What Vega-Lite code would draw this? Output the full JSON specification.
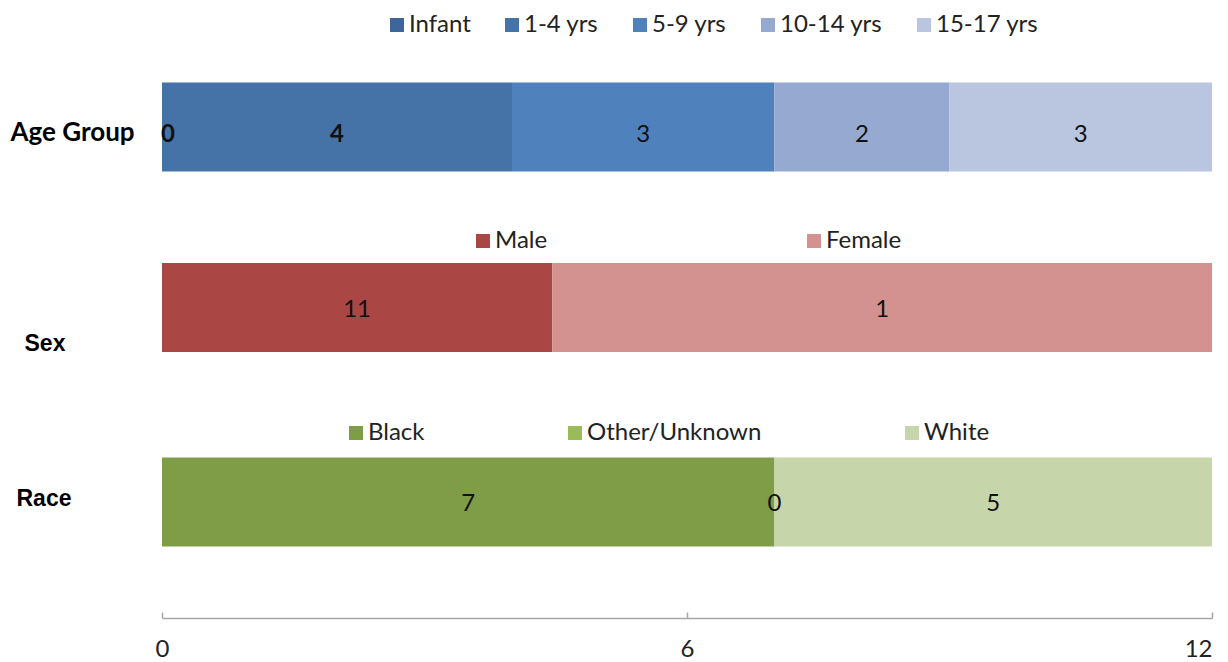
{
  "$schema": "https://vega.github.io/schema/vega-lite/v6.json",
  "autosize": "none",
  "width": 1050,
  "height": 607,
  "padding": {"left": 162, "top": 11, "right": 16, "bottom": 44},
  "background": "white",
  "config": {"view": {"stroke": null}, "font": "Lato"},
  "data": {
    "values": [
      {"group": "Age Group", "category": "Infant", "idx": 0, "value": 0, "label": "0"},
      {"group": "Age Group", "category": "1-4 yrs", "idx": 1, "value": 4, "label": "4"},
      {"group": "Age Group", "category": "5-9 yrs", "idx": 2, "value": 3, "label": "3"},
      {"group": "Age Group", "category": "10-14 yrs", "idx": 3, "value": 2, "label": "2"},
      {"group": "Age Group", "category": "15-17 yrs", "idx": 4, "value": 3, "label": "3"},
      {"group": "Sex", "category": "Male", "idx": 0, "value": 4.46, "label": "11"},
      {"group": "Sex", "category": "Female", "idx": 1, "value": 7.54, "label": "1"},
      {"group": "Race", "category": "Black", "idx": 0, "value": 7, "label": "7"},
      {"group": "Race", "category": "Other/Unknown", "idx": 1, "value": 0, "label": "0"},
      {"group": "Race", "category": "White", "idx": 2, "value": 5, "label": "5"}
    ]
  },
  "encoding": {
    "y": {
      "field": "group",
      "type": "nominal",
      "sort": ["Age Group", "Sex", "Race"],
      "scale": {"domain": ["Age Group", "Sex", "Race"], "paddingInner": 0.525, "paddingOuter": 0.381},
      "axis": {
        "title": null,
        "domain": false,
        "ticks": false,
        "labelColor": "#000000",
        "labelFontWeight": "bold",
        "labelAlign": "left",
        "labelBaseline": "middle",
        "labelLimit": 300,
        "labelFont": {"condition": {"test": "datum.value === 'Age Group'", "value": "Lato"}, "value": "Liberation Sans"},
        "labelFontSize": {"condition": {"test": "datum.value === 'Age Group'", "value": 26}, "value": 23},
        "labelPadding": {"condition": [{"test": "datum.value === 'Age Group'", "value": 152}, {"test": "datum.value === 'Sex'", "value": 138}], "value": 146},
        "labelOffset": {"condition": [{"test": "datum.value === 'Age Group'", "value": 6}, {"test": "datum.value === 'Sex'", "value": 29}], "value": -3}
      }
    }
  },
  "layer": [
    {
      "transform": [{"filter": "datum.group === 'Age Group'"}],
      "mark": {"type": "bar"},
      "encoding": {
        "x": {
          "field": "value", "type": "quantitative", "stack": "zero",
          "scale": {"domain": [0, 12], "nice": false},
          "axis": {
            "title": null, "values": [0, 6, 12], "format": "d", "grid": false,
            "domainColor": "#A6A6A6", "domainWidth": 1.5,
            "tickColor": "#A6A6A6", "tickWidth": 1.5, "tickSize": -6,
            "labelPadding": 25, "labelFont": "Lato", "labelFontSize": 24,
            "labelColor": "#222222", "labelFlush": false,
            "labelAlign": {"condition": {"test": "datum.value === 12", "value": "right"}, "value": "center"}
          }
        },
        "order": {"field": "idx", "type": "quantitative"},
        "color": {
          "field": "category", "type": "nominal",
          "scale": {"domain": ["Infant", "1-4 yrs", "5-9 yrs", "10-14 yrs", "15-17 yrs"], "range": ["#3D669A", "#4573A8", "#4F81BD", "#95A9D1", "#BAC6E0"]},
          "legend": {
            "orient": "none", "legendX": 223, "legendY": 2, "direction": "horizontal",
            "title": null, "padding": 0, "symbolType": "square", "symbolSize": 196,
            "symbolStrokeWidth": 0, "labelFont": "Lato", "labelFontSize": 24, "labelLimit": 400,
            "labelColor": "#222222", "labelOffset": 0, "columnPadding": 29, "gridAlign": "none"
          }
        }
      }
    },
    {
      "transform": [{"filter": "datum.group === 'Sex'"}],
      "mark": {"type": "bar", "yOffset": -7},
      "encoding": {
        "x": {"field": "value", "type": "quantitative", "stack": "zero"},
        "order": {"field": "idx", "type": "quantitative"},
        "color": {
          "field": "category", "type": "nominal",
          "scale": {"domain": ["Male", "Female"], "range": ["#AA4643", "#D3918F"]},
          "legend": {
            "orient": "none", "legendX": 309, "legendY": 218, "direction": "horizontal",
            "title": null, "padding": 0, "symbolType": "square", "symbolSize": 196,
            "symbolStrokeWidth": 0, "labelFont": "Lato", "labelFontSize": 24, "labelLimit": 400,
            "labelColor": "#222222", "labelOffset": 0, "columnPadding": 254, "gridAlign": "none"
          }
        }
      }
    },
    {
      "transform": [{"filter": "datum.group === 'Race'"}],
      "mark": {"type": "bar"},
      "encoding": {
        "x": {"field": "value", "type": "quantitative", "stack": "zero"},
        "order": {"field": "idx", "type": "quantitative"},
        "color": {
          "field": "category", "type": "nominal",
          "scale": {"domain": ["Black", "Other/Unknown", "White"], "range": ["#7F9C47", "#9BBB59", "#C6D6AA"]},
          "legend": {
            "orient": "none", "legendX": 182, "legendY": 410, "direction": "horizontal",
            "title": null, "padding": 0, "symbolType": "square", "symbolSize": 196,
            "symbolStrokeWidth": 0, "labelFont": "Lato", "labelFontSize": 24, "labelLimit": 400,
            "labelColor": "#222222", "labelOffset": 0, "columnPadding": 138, "gridAlign": "none"
          }
        }
      }
    },
    {
      "mark": {
        "type": "text", "font": "Lato", "fontSize": 24, "color": "#111111", "baseline": "middle", "align": "center",
        "dy": {"expr": "datum.group === 'Age Group' ? 8 : (datum.group === 'Sex' ? -5 : 2)"},
        "dx": {"expr": "datum.category === 'Infant' ? 6 : 0"},
        "fontWeight": {"expr": "(datum.category === 'Infant' || datum.category === '1-4 yrs') ? 700 : 400"}
      },
      "encoding": {
        "x": {"field": "value", "type": "quantitative", "stack": "zero", "bandPosition": 0.5},
        "order": {"field": "idx", "type": "quantitative"},
        "detail": {"field": "category", "type": "nominal"},
        "text": {"field": "label", "type": "nominal"}
      }
    }
  ],
  "resolve": {"scale": {"color": "independent"}, "legend": {"color": "independent"}}
}
